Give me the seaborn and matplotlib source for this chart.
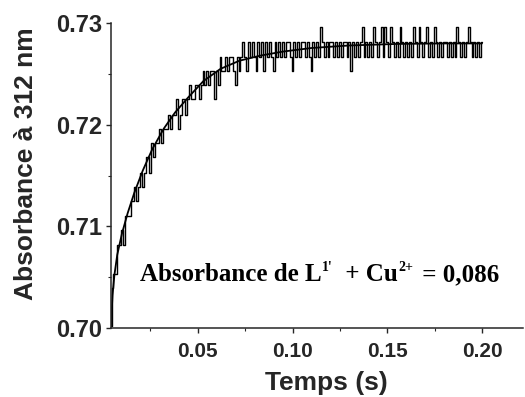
import numpy as np
import matplotlib
matplotlib.use("Agg")
from matplotlib import pyplot as plt
from matplotlib.ticker import MultipleLocator, FormatStrFormatter
import seaborn as sns

# sampling grid of the recorded trace (1 ms steps)
t_start = 0.004
t_step = 0.001

# recorded absorbance, in mAbs, read block by block (10 samples per block)
abs_mA = [
    700.2, 703.9, 705.3, 705.3, 708.2, 708.2, 709.6, 708.2, 711.0, 711.0,
    711.0, 712.5, 712.5, 713.9, 712.5, 713.9, 715.3, 713.9, 715.3, 716.8,
    716.8, 715.3, 718.2, 716.8, 718.2, 718.2, 719.6, 718.2, 719.6, 719.6,
    719.6, 721.0, 719.6, 721.0, 721.0, 722.5, 719.6, 721.0, 722.5, 722.5,
    721.0, 722.5, 723.9, 722.5, 722.5, 723.9, 723.9, 722.5, 723.9, 725.3,
    723.9, 725.3, 723.9, 725.3, 725.3, 722.5, 725.3, 723.9, 726.7, 725.3,
    725.3, 726.7, 725.3, 726.7, 726.7, 725.3, 723.9, 726.7, 725.3, 726.7,
    728.1, 726.7, 725.3, 728.1, 726.7, 728.1, 726.7, 725.3, 728.1, 726.7,
    728.1, 725.3, 728.1, 726.7, 728.1, 726.7, 725.3, 728.1, 726.7, 728.1,
    726.7, 728.1, 726.7, 728.1, 728.1, 726.7, 725.3, 728.1, 726.7, 728.1,
    726.7, 728.1, 728.1, 726.7, 728.1, 726.7, 725.3, 728.1, 726.7, 728.1,
    726.7, 729.6, 728.1, 726.7, 728.1, 726.7, 728.1, 728.1, 726.7, 728.1,
    726.7, 728.1, 726.7, 728.1, 728.1, 726.7, 728.1, 725.3, 728.1, 726.7,
    728.1, 726.7, 728.1, 729.6, 726.7, 728.1, 726.7, 728.1, 726.7, 729.6,
    728.1, 726.7, 728.1, 729.6, 726.7, 729.6, 728.1, 726.7, 729.6, 728.1,
    726.7, 728.1, 726.7, 729.6, 728.1, 726.7, 728.1, 726.7, 728.1, 726.7,
    729.6, 728.1, 726.7, 729.6, 728.1, 726.7, 728.1, 729.6, 726.7, 728.1,
    726.7, 729.6, 728.1, 726.7, 728.1, 726.7, 728.1, 728.1, 726.7, 728.1,
    726.7, 728.1, 726.7, 729.6, 728.1, 726.7, 728.1, 726.7, 728.1, 729.6,
    728.1, 726.7, 728.1, 726.7, 728.1, 726.7, 728.1,
]

# fitted curve
fit_t = [0.0042, 0.0050, 0.0060, 0.0075, 0.0100, 0.0130, 0.0165, 0.0210,
         0.0260, 0.0320, 0.0380, 0.0450, 0.0530, 0.0620, 0.0720, 0.0830,
         0.0950, 0.1100, 0.1300, 0.1550, 0.1800, 0.2000]
fit_mA = [700.2, 703.2, 705.2, 707.2, 709.3, 711.3, 713.3, 715.5,
          717.6, 719.6, 721.2, 722.7, 724.3, 725.5, 726.3, 726.8,
          727.2, 727.55, 727.8, 727.95, 728.0, 728.0]

# annotation pieces: (text, is_superscript, extra gap before it in points)
note_parts = [("Absorbance de L", False, 0), ("1'", True, 0.5),
              (" + Cu", False, 4.5), ("2+", True, 0.5), (" = 0,086", False, 1.5)]

sns.set_style("ticks")
plt.rcParams["font.family"] = ["Liberation Sans", "DejaVu Sans"]

t = t_start + t_step * np.arange(len(abs_mA))
absorb = np.array(abs_mA) / 1000
fit_a = np.array(fit_mA) / 1000

fig = plt.figure(figsize=(5.25, 3.97), dpi=100)
ax = fig.add_axes([0.2114, 0.1738, 0.785, 0.768])

sns.lineplot(x=t, y=absorb, ax=ax, color="black", linewidth=1.0,
             estimator=None, sort=False, drawstyle="steps-mid")
sns.lineplot(x=fit_t, y=fit_a, ax=ax, color="black", linewidth=1.3,
             estimator=None, sort=False)

ax.set_xlim(0.0042, 0.2217)
ax.set_ylim(0.70, 0.73)
ax.xaxis.set_major_locator(MultipleLocator(0.05))
ax.xaxis.set_minor_locator(MultipleLocator(0.025))
ax.yaxis.set_major_locator(MultipleLocator(0.01))
ax.yaxis.set_minor_locator(MultipleLocator(0.005))
ax.xaxis.set_major_formatter(FormatStrFormatter("%.2f"))
ax.yaxis.set_major_formatter(FormatStrFormatter("%.2f"))
ax.tick_params(which="major", length=3.6, width=1, direction="out", pad=3)
ax.tick_params(axis="x", which="major", pad=6.5)
ax.tick_params(which="minor", length=2.2, width=0.8, direction="out")
for lbl in ax.get_xticklabels():
    lbl.set_fontweight("bold")
    lbl.set_fontsize(15)
for lbl in ax.get_yticklabels():
    lbl.set_fontweight("bold")
    lbl.set_fontsize(17)
for side in ["top", "right"]:
    ax.spines[side].set_visible(False)
for side in ["left", "bottom"]:
    ax.spines[side].set_linewidth(1.1)

ax.set_xlabel("Temps (s)", fontsize=19, fontweight="bold")
ax.set_ylabel("Absorbance à 312 nm", fontsize=19, fontweight="bold")
ax.xaxis.set_label_coords(0.522, -0.141)
ax.yaxis.set_label_coords(-0.178, 0.538)

# chain the annotation pieces so superscripts sit after their base text
serif = dict(family="Liberation Serif", fontweight="bold", color="black")
first = ax.text(0.0195, 0.7046, note_parts[0][0], fontsize=18,
                va="baseline", ha="left", **serif)
prev, base = first, first
for txt, sup, gap in note_parts[1:]:
    if sup:
        prev = ax.annotate(txt, xy=(1, 0), xycoords=prev, xytext=(gap, 8.8),
                           textcoords="offset points", fontsize=10,
                           va="bottom", ha="left", **serif)
    else:
        prev = ax.annotate(txt, xy=(1, 0), xycoords=(prev, base),
                           xytext=(gap, 0), textcoords="offset points",
                           fontsize=18, va="bottom", ha="left", **serif)
        base = prev

fig.savefig("out.png", dpi=100)
